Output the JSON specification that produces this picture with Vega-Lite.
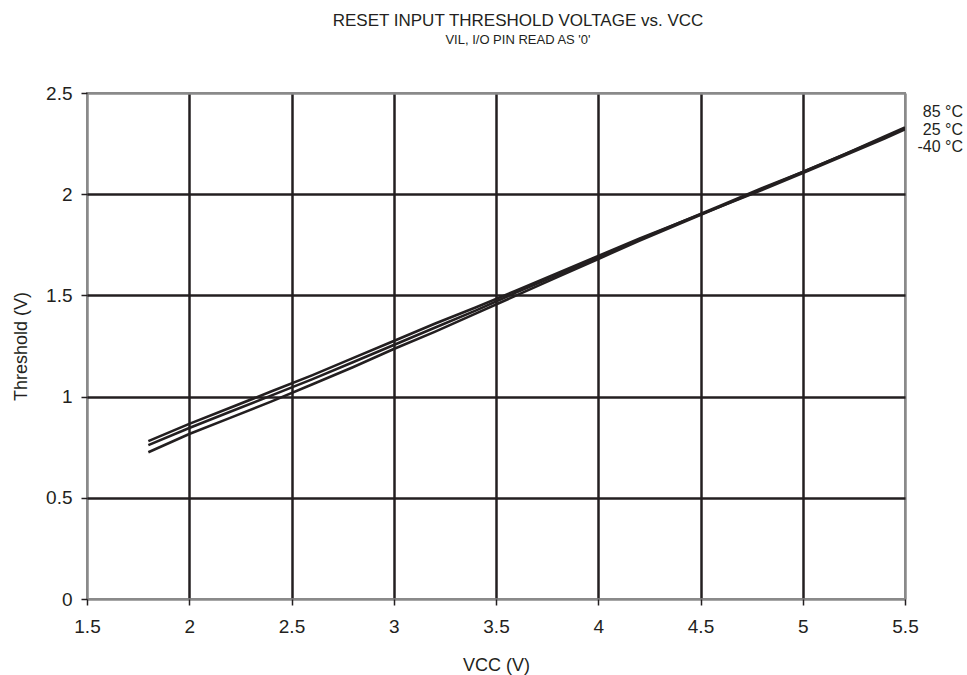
{
  "$schema": "https://vega.github.io/schema/vega-lite/v6.json",
  "width": 818,
  "height": 506,
  "autosize": "none",
  "padding": {"left": 87, "top": 93, "right": 62, "bottom": 76},
  "background": "white",
  "title": {
    "text": "RESET INPUT THRESHOLD VOLTAGE vs. VCC",
    "subtitle": "VIL, I/O PIN READ AS '0'",
    "font": "Liberation Sans",
    "fontSize": 17,
    "fontWeight": "normal",
    "color": "#231f20",
    "subtitleFont": "Liberation Sans",
    "subtitleFontSize": 13,
    "subtitleColor": "#231f20",
    "subtitlePadding": 4,
    "anchor": "middle",
    "dx": 22,
    "offset": 36
  },
  "config": {
    "view": {"stroke": "#8a8a8a", "strokeWidth": 2},
    "axis": {
      "labelFont": "Liberation Sans",
      "labelFontSize": 19,
      "labelColor": "#231f20",
      "titleFont": "Liberation Sans",
      "titleFontSize": 18,
      "titleFontWeight": "normal",
      "titleColor": "#231f20",
      "tickColor": "#231f20",
      "tickSize": 6,
      "tickWidth": 1.5,
      "domain": false,
      "gridWidth": 2.5,
      "format": "~g"
    }
  },
  "datasets": {
    "curves": [
      {"vcc": 1.8, "t": 0.78, "temp": "85 °C"},
      {"vcc": 2.0, "t": 0.865, "temp": "85 °C"},
      {"vcc": 2.2, "t": 0.945, "temp": "85 °C"},
      {"vcc": 2.4, "t": 1.025, "temp": "85 °C"},
      {"vcc": 2.6, "t": 1.105, "temp": "85 °C"},
      {"vcc": 2.8, "t": 1.19, "temp": "85 °C"},
      {"vcc": 3.0, "t": 1.275, "temp": "85 °C"},
      {"vcc": 3.2, "t": 1.36, "temp": "85 °C"},
      {"vcc": 3.4, "t": 1.44, "temp": "85 °C"},
      {"vcc": 3.6, "t": 1.525, "temp": "85 °C"},
      {"vcc": 3.8, "t": 1.61, "temp": "85 °C"},
      {"vcc": 4.0, "t": 1.695, "temp": "85 °C"},
      {"vcc": 4.2, "t": 1.78, "temp": "85 °C"},
      {"vcc": 4.4, "t": 1.86, "temp": "85 °C"},
      {"vcc": 4.6, "t": 1.945, "temp": "85 °C"},
      {"vcc": 4.8, "t": 2.03, "temp": "85 °C"},
      {"vcc": 5.0, "t": 2.11, "temp": "85 °C"},
      {"vcc": 5.2, "t": 2.195, "temp": "85 °C"},
      {"vcc": 5.4, "t": 2.285, "temp": "85 °C"},
      {"vcc": 5.5, "t": 2.33, "temp": "85 °C"},
      {"vcc": 1.8, "t": 0.76, "temp": "25 °C"},
      {"vcc": 2.0, "t": 0.845, "temp": "25 °C"},
      {"vcc": 2.2, "t": 0.925, "temp": "25 °C"},
      {"vcc": 2.4, "t": 1.005, "temp": "25 °C"},
      {"vcc": 2.6, "t": 1.085, "temp": "25 °C"},
      {"vcc": 2.8, "t": 1.17, "temp": "25 °C"},
      {"vcc": 3.0, "t": 1.255, "temp": "25 °C"},
      {"vcc": 3.2, "t": 1.34, "temp": "25 °C"},
      {"vcc": 3.4, "t": 1.425, "temp": "25 °C"},
      {"vcc": 3.6, "t": 1.515, "temp": "25 °C"},
      {"vcc": 3.8, "t": 1.6, "temp": "25 °C"},
      {"vcc": 4.0, "t": 1.69, "temp": "25 °C"},
      {"vcc": 4.2, "t": 1.775, "temp": "25 °C"},
      {"vcc": 4.4, "t": 1.86, "temp": "25 °C"},
      {"vcc": 4.6, "t": 1.94, "temp": "25 °C"},
      {"vcc": 4.8, "t": 2.025, "temp": "25 °C"},
      {"vcc": 5.0, "t": 2.11, "temp": "25 °C"},
      {"vcc": 5.2, "t": 2.195, "temp": "25 °C"},
      {"vcc": 5.4, "t": 2.28, "temp": "25 °C"},
      {"vcc": 5.5, "t": 2.325, "temp": "25 °C"},
      {"vcc": 1.8, "t": 0.725, "temp": "-40 °C"},
      {"vcc": 2.0, "t": 0.815, "temp": "-40 °C"},
      {"vcc": 2.2, "t": 0.895, "temp": "-40 °C"},
      {"vcc": 2.4, "t": 0.975, "temp": "-40 °C"},
      {"vcc": 2.6, "t": 1.06, "temp": "-40 °C"},
      {"vcc": 2.8, "t": 1.145, "temp": "-40 °C"},
      {"vcc": 3.0, "t": 1.235, "temp": "-40 °C"},
      {"vcc": 3.2, "t": 1.32, "temp": "-40 °C"},
      {"vcc": 3.4, "t": 1.41, "temp": "-40 °C"},
      {"vcc": 3.6, "t": 1.5, "temp": "-40 °C"},
      {"vcc": 3.8, "t": 1.59, "temp": "-40 °C"},
      {"vcc": 4.0, "t": 1.68, "temp": "-40 °C"},
      {"vcc": 4.2, "t": 1.77, "temp": "-40 °C"},
      {"vcc": 4.4, "t": 1.855, "temp": "-40 °C"},
      {"vcc": 4.6, "t": 1.94, "temp": "-40 °C"},
      {"vcc": 4.8, "t": 2.02, "temp": "-40 °C"},
      {"vcc": 5.0, "t": 2.105, "temp": "-40 °C"},
      {"vcc": 5.2, "t": 2.19, "temp": "-40 °C"},
      {"vcc": 5.4, "t": 2.275, "temp": "-40 °C"},
      {"vcc": 5.5, "t": 2.32, "temp": "-40 °C"}
    ],
    "labels": [
      {"vcc": 5.5, "t": 2.406, "temp": "85 °C"},
      {"vcc": 5.5, "t": 2.319, "temp": "25 °C"},
      {"vcc": 5.5, "t": 2.233, "temp": "-40 °C"}
    ]
  },
  "layer": [
    {
      "data": {"name": "curves"},
      "mark": {"type": "line", "color": "#231f20", "strokeWidth": 2.6, "clip": true},
      "encoding": {
        "x": {
          "field": "vcc", "type": "quantitative",
          "scale": {"domain": [1.5, 5.5], "nice": false, "zero": false},
          "axis": {
            "values": [1.5, 2, 2.5, 3, 3.5, 4, 4.5, 5, 5.5],
            "title": "VCC (V)",
            "labelPadding": 12,
            "titlePadding": 20,
            "grid": true,
            "gridColor": {"condition": {"test": "datum.value == 1.5 || datum.value == 5.5", "value": "#8a8a8a"}, "value": "#231f20"},
            "labelFlush": false
          }
        },
        "y": {
          "field": "t", "type": "quantitative",
          "scale": {"domain": [0, 2.5], "nice": false},
          "axis": {
            "values": [0, 0.5, 1, 1.5, 2, 2.5],
            "title": "Threshold (V)",
            "labelPadding": 9,
            "titlePadding": 15,
            "grid": true,
            "gridColor": {"condition": {"test": "datum.value == 0 || datum.value == 2.5", "value": "#8a8a8a"}, "value": "#231f20"},
            "labelFlush": false
          }
        },
        "detail": {"field": "temp", "type": "nominal"}
      }
    },
    {
      "data": {"name": "labels"},
      "mark": {"type": "text", "align": "right", "baseline": "middle", "dx": 58, "font": "Liberation Sans", "fontSize": 16, "color": "#231f20", "clip": false},
      "encoding": {
        "x": {"field": "vcc", "type": "quantitative"},
        "y": {"field": "t", "type": "quantitative"},
        "text": {"field": "temp", "type": "nominal"}
      }
    }
  ]
}
